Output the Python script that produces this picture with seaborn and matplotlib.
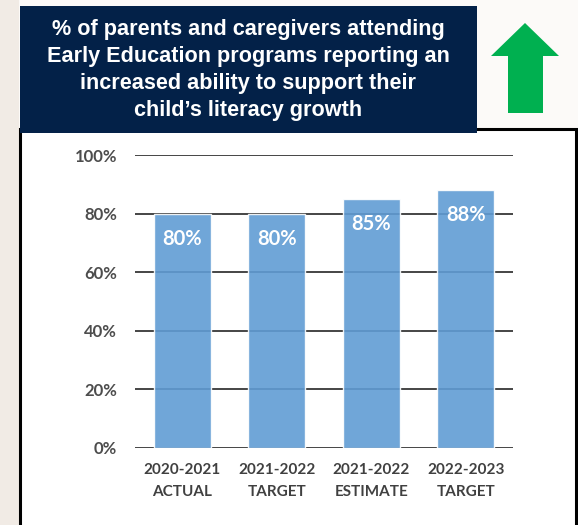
import matplotlib.pyplot as plt
import matplotlib.patches as patches
import seaborn as sns
import pandas as pd

# Chart data
years = ['2020-2021', '2021-2022', '2021-2022', '2022-2023']
kinds = ['ACTUAL', 'TARGET', 'ESTIMATE', 'TARGET']
values = [80, 80, 85, 88]
y_ticks = [0, 20, 40, 60, 80, 100]
title = ("% of parents and caregivers attending\n"
         "Early Education programs reporting an\n"
         "increased ability to support their\n"
         "child\u2019s literacy growth")

sns.set_theme(style="white")
plt.rcParams['font.family'] = ['Lato', 'DejaVu Sans']

W, H = 578, 525
fig = plt.figure(figsize=(W / 100, H / 100), dpi=100, facecolor='#fcfaf8')


def px_rect(x0, y0, x1, y1, **kw):
    """Rectangle in figure pixel coords (y measured from top)."""
    return patches.Rectangle((x0 / W, 1 - y1 / H), (x1 - x0) / W, (y1 - y0) / H,
                             transform=fig.transFigure, **kw)


# background decoration
fig.patches.append(px_rect(0, 0, 19, H, facecolor='#f1ebe5', edgecolor='none', zorder=0))
# chart frame
fig.patches.append(px_rect(19.5, 128.5, 575.5, H + 5, facecolor='white',
                           edgecolor='black', linewidth=2.2, zorder=1))
# title box
fig.patches.append(px_rect(20, 6, 477, 133, facecolor='#032148', edgecolor='none', zorder=2))
fig.text(248.5 / W, 1 - 70 / H, title, ha='center', va='center', color='white',
         fontsize=15.6, fontweight='bold', family=['Liberation Sans', 'DejaVu Sans'],
         linespacing=1.36, zorder=3)

# green up arrow
arrow_pts = [(508, 113), (508, 56), (491, 56), (525, 23), (559, 56), (543, 56), (543, 113)]
fig.patches.append(patches.Polygon([(x / W, 1 - y / H) for x, y in arrow_pts], closed=True,
                                   transform=fig.transFigure, facecolor='#00b050',
                                   edgecolor='none', zorder=2))

# bar chart
ax = fig.add_axes([135 / W, 1 - 448 / H, 378 / W, 293 / H], zorder=4)
ax.patch.set_alpha(0)
df = pd.DataFrame({'label': [f"{y}\n{k}" for y, k in zip(years, kinds)], 'value': values})
sns.barplot(data=df, x='label', y='value', color='#609cd4', saturation=1, width=0.6,
            alpha=0.9, ax=ax, zorder=3)

ax.set_ylim(0, 100)
ax.set_xlim(-0.5, len(values) - 0.5)
ax.set_yticks(y_ticks)
ax.set_yticklabels([f"{t}%" for t in y_ticks])
ax.set_xlabel('')
ax.set_ylabel('')
for s in ax.spines.values():
    s.set_visible(False)
ax.grid(axis='y', color='#454545', linewidth=1.4)
ax.set_axisbelow(True)
ax.tick_params(axis='y', length=0, pad=13, labelsize=12, labelcolor='#4d4d4d')
ax.tick_params(axis='x', length=0, pad=11, labelsize=11, labelcolor='#404040')
for lbl in ax.get_yticklabels():
    lbl.set_fontweight('bold')
for lbl in ax.get_xticklabels():
    lbl.set_fontweight('bold')
    lbl.set_linespacing(1.68)

for i, v in enumerate(values):
    ax.annotate(f"{v}%", xy=(i, v), xytext=(0, -18), textcoords='offset points',
                ha='center', va='center', color='white', fontsize=14.5,
                fontweight='bold', zorder=5)

fig.savefig('out.png', dpi=100, facecolor=fig.get_facecolor())
